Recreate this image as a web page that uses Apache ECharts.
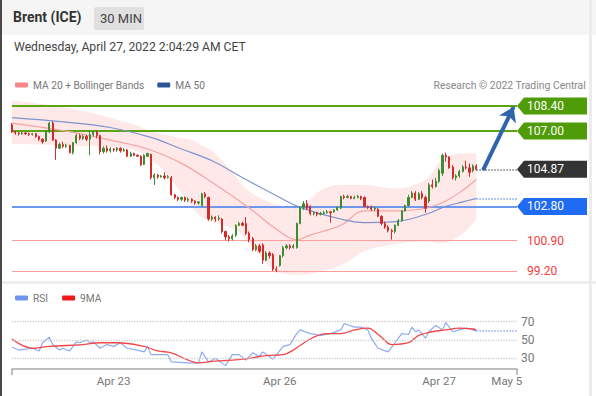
<!DOCTYPE html>
<html><head><meta charset="utf-8">
<script src="https://cdn.jsdelivr.net/npm/echarts@6/dist/echarts.min.js"></script>
<style>html,body{margin:0;padding:0;background:#fff;overflow:hidden}#c{width:596px;height:396px}</style>
</head><body><div id="c"></div>
<script>
// ---- DATA ----
// candles: [open, close, low, high], one per 30-min bar
const candles = [
[107.35,106.95,106.90,107.45],[106.95,106.90,106.80,107.00],[106.90,106.85,106.75,106.95],[106.85,106.90,106.80,106.95],
[106.90,106.85,106.78,106.95],[106.85,106.82,106.72,106.92],[106.82,106.85,106.75,106.90],[106.85,106.70,106.62,106.90],
[106.70,106.55,106.45,106.75],[106.55,106.40,106.30,106.60],[106.45,107.00,106.40,107.05],[106.95,107.45,106.90,107.50],
[107.45,106.50,106.45,107.55],[106.50,106.05,105.40,106.55],[106.05,106.25,106.00,106.35],[106.25,106.15,106.05,106.40],
[106.15,106.20,106.05,106.30],[106.20,105.80,105.75,106.25],[105.80,106.35,105.70,106.40],[106.35,106.75,106.30,106.85],
[106.75,106.60,106.50,106.85],[106.60,106.70,106.50,106.80],[106.70,106.55,106.45,106.80],[106.55,106.80,105.65,107.05],
[106.80,106.95,106.70,107.05],[106.95,106.75,106.60,107.05],[106.75,105.85,105.70,106.80],[105.85,106.05,105.75,106.15],
[106.05,105.90,105.80,106.20],[105.90,106.00,105.80,106.10],[106.00,105.95,105.85,106.05],[105.95,106.05,105.85,106.10],
[106.05,105.90,105.80,106.10],[105.90,105.95,105.85,106.05],[105.95,105.60,105.55,106.00],[105.60,105.75,105.55,105.85],
[105.75,105.65,105.60,105.80],[105.65,105.60,105.55,105.70],[105.60,105.12,105.05,105.65],[105.15,105.65,105.10,105.70],
[105.60,105.75,105.55,105.80],[105.70,104.40,104.30,105.75],[104.40,104.55,104.00,104.65],[104.55,104.45,104.35,104.60],
[104.45,104.50,104.40,104.55],[104.50,104.40,104.30,104.70],[104.40,104.45,104.35,104.55],[104.40,103.45,103.40,104.50],
[103.45,103.30,103.20,103.50],[103.30,103.20,103.10,103.35],[103.20,103.30,103.10,103.35],[103.30,103.15,103.05,103.35],
[103.15,103.20,103.05,103.30],[103.20,103.10,103.00,103.25],[103.10,103.00,102.90,103.15],[103.00,103.05,102.90,103.10],
[102.85,103.50,102.80,103.55],[103.50,103.35,103.25,103.60],[103.30,102.10,102.00,103.35],[102.10,102.20,102.00,102.30],
[102.20,102.10,101.95,102.25],[102.10,102.15,102.00,102.30],[102.10,101.40,101.30,102.15],[101.40,101.10,100.90,101.45],
[101.10,101.00,100.85,101.20],[101.00,101.15,100.90,101.25],[101.20,101.75,101.10,101.80],[101.75,101.85,101.70,101.95],
[101.85,101.75,101.70,101.95],[101.85,101.30,101.20,102.20],[101.30,100.95,100.80,101.40],[101.00,100.40,100.30,101.10],
[100.40,100.60,100.30,100.70],[100.60,100.30,100.20,100.70],[100.65,99.80,99.60,100.75],[99.80,100.20,99.75,100.30],
[100.20,100.05,99.90,100.30],[100.10,99.30,99.20,100.20],[99.30,99.25,99.13,99.45],[99.50,100.05,99.45,100.10],
[100.05,100.50,99.95,100.60],[100.50,100.60,100.40,100.70],[100.60,100.50,100.40,100.70],[100.50,100.60,100.45,100.70],
[100.50,101.85,100.45,101.90],[101.85,102.75,101.80,102.80],[102.75,102.95,102.60,103.10],[102.95,102.70,102.60,103.15],
[102.80,102.40,102.30,102.85],[102.40,102.45,102.30,102.50],[102.45,102.35,102.25,102.50],[102.35,102.40,102.30,102.50],
[102.40,102.45,102.35,102.55],[102.45,102.50,102.40,102.60],[102.50,102.45,101.90,102.55],[102.50,102.60,102.45,102.65],
[102.60,102.75,102.55,102.80],[102.70,103.35,102.65,103.40],[103.35,103.30,103.20,103.45],[103.30,103.35,103.25,103.45],
[103.35,103.25,103.20,103.40],[103.25,103.30,103.20,103.40],[103.30,103.35,103.25,103.45],[103.35,103.25,103.15,103.40],
[103.30,102.80,102.75,103.35],[102.80,102.75,102.65,102.85],[102.75,102.65,102.55,102.85],[102.65,102.70,102.55,102.80],
[102.65,102.25,102.20,102.70],[102.25,101.85,101.75,102.30],[101.85,101.65,101.55,101.95],[101.65,101.45,101.35,101.75],
[101.45,101.40,100.95,101.55],[101.40,101.75,101.30,101.80],[101.75,102.00,101.70,102.10],[102.00,102.55,101.95,102.60],
[102.55,102.85,102.50,102.90],[102.85,103.30,102.80,103.45],[103.30,103.55,103.25,103.65],[103.55,103.20,103.10,103.65],
[103.20,103.50,103.15,103.60],[103.50,103.30,103.20,103.65],[103.30,102.70,102.45,103.40],[103.10,104.00,103.00,104.10],
[104.00,103.90,103.80,104.30],[103.90,104.20,103.85,104.40],[104.20,104.80,104.10,104.90],[104.65,105.65,104.50,105.75],
[105.65,105.55,105.30,105.80],[105.55,104.95,104.90,105.60],[105.00,104.40,104.30,105.10],[104.40,104.50,104.25,104.60],
[104.50,104.75,104.40,104.85],[104.75,105.00,104.70,105.10],[105.00,104.95,104.85,105.35],[104.95,104.70,104.45,105.20],
[104.80,105.05,104.70,105.15],[105.05,104.87,104.80,105.15]
];
const barCount = 150; // axis slots incl. empty future slots
const categories = Array.from({length: barCount}, (_, i) => 'b' + i);
const tickLabels = {30: 'Apr 23', 79: 'Apr 26', 126: 'Apr 27', 146: 'May 5'};

// indicator readings as [barIndex, value]
const ma20 = [[0,107.45],[16,107.0],[29,106.5],[40,106.0],[50,105.2],[59,104.15],[69,102.85],[79,101.4],[84,100.95],[88,101.2],[97,101.75],[104,102.55],[113,102.55],[122,102.7],[128,103.1],[133,103.7],[137,104.3]];
const ma50 = [[0,107.75],[16,107.5],[29,107.2],[41,106.65],[50,106.0],[59,105.35],[69,104.3],[79,103.3],[85,102.75],[97,102.1],[104,101.9],[113,101.95],[122,102.35],[128,102.8],[133,103.05],[137,103.25]];
const bandIdx = [0,16,29,36,41,44,50,53,56,59,66,69,73,79,85,88,92,98,104,113,122,127,133,137];
const bbUpper = [108.7,108.3,107.75,107.35,107.0,106.85,106.6,106.5,106.2,105.9,104.5,103.8,103.3,102.85,102.75,103.2,103.8,104.0,104.0,103.8,104.3,105.4,105.75,105.75];
const bbLower = [106.3,106.2,106.1,105.95,105.4,104.95,103.55,102.8,102.2,101.95,101.5,101.0,100.1,99.1,99.0,99.05,99.2,99.6,100.3,100.7,100.85,100.75,101.3,102.1];
const rsi = [[0,42],[2,39],[6,41],[8,38],[9,47],[11,53],[12,45],[14,39],[15,41],[17,38],[19,48],[20,47],[22,50],[23,47],[24,48],[26,41],[28,45],[30,43],[32,47],[34,41],[37,39],[39,37],[40,43],[41,34],[46,34],[47,26],[52,25],[55,25],[56,37],[58,26],[60,30],[63,22],[65,34],[67,34],[69,28],[71,36],[73,32],[74,37],[77,29],[80,43],[82,45],[84,57],[85,61],[88,57],[91,55],[94,57],[97,61],[98,68],[101,64],[103,64],[105,61],[106,52],[108,41],[111,37],[113,47],[115,57],[117,56],[118,64],[119,59],[120,61],[122,52],[123,59],[125,66],[127,61],[128,69],[130,59],[132,61],[134,63],[136,61],[137,60]];
const rsiMA = [[0,51],[6,41],[11,43],[21,45],[26,47],[31,47],[39,43],[43,38],[47,36],[52,28],[55,25],[60,27],[65,28],[70,30],[75,33],[80,34],[83,39],[85,44],[89,53],[93,57],[97,57],[101,61],[105,63],[106,62],[109,53],[112,45],[117,47],[120,55],[124,59],[128,61],[132,63],[136,62],[137,61]];
const lastPrice = 104.87;
const targets = {r2: 108.40, r1: 107.00, pivot: 102.80, s1: 100.90, s2: 99.20};
const rsiLevels = [70, 50, 30];

// ---- CHART ----
const FONT = 'Roboto, "Liberation Sans", sans-serif';
const chart = echarts.init(document.getElementById('c'), null, {renderer: 'svg'});
const lastIdx = candles.length - 1;
const endCat = categories[barCount - 1];
const boxPath = 'path://M0,8.5L7,0L70,0L70,17L7,17Z';
const boxPoint = (val, color) => ({
  name: val.toFixed(2), coord: [endCat, val], symbol: boxPath, symbolSize: [70, 17], symbolOffset: [35, 0],
  itemStyle: {color: color},
  label: {show: true, position: 'insideLeft', distance: 10, formatter: p => p.name, color: '#fff', fontSize: 12, fontFamily: FONT}
});

const option = {
  animation: false,
  textStyle: {fontFamily: FONT},
  grid: [
    {left: 12, right: 79, top: 95, height: 190},
    {left: 12, right: 79, top: 300, height: 69}
  ],
  xAxis: [
    {type: 'category', data: categories, boundaryGap: false, gridIndex: 0, show: false},
    {type: 'category', data: categories, boundaryGap: false, gridIndex: 1,
     axisLine: {lineStyle: {color: '#a9a9a9', width: 1.5}},
     axisTick: {show: true, length: 6, interval: (i) => i === 0 || i === barCount - 1, lineStyle: {color: '#a9a9a9', width: 1.5}},
     axisLabel: {interval: (i) => tickLabels[i] !== undefined, formatter: (v, i) => tickLabels[i] || '', color: '#777', fontSize: 11.5, margin: 6, fontFamily: FONT},
     splitLine: {show: false}}
  ],
  yAxis: [
    {type: 'value', gridIndex: 0, min: 98.419, max: 109.013, show: false, splitLine: {show: false}},
    {type: 'value', gridIndex: 1, min: 18.3, max: 93.7, show: false, splitLine: {show: false}}
  ],
  legend: [
    {left: 15, top: 80, padding: 0, icon: 'roundRect', itemWidth: 13, itemHeight: 5, itemGap: 13, selectedMode: false,
     textStyle: {color: '#777', fontSize: 10.2, fontFamily: FONT},
     data: [{name: 'MA 20 + Bollinger Bands', itemStyle: {color: '#f78686'}}, {name: 'MA 50', itemStyle: {color: '#2c5597'}}]},
    {left: 15, top: 293, padding: 0, icon: 'roundRect', itemWidth: 13, itemHeight: 5, itemGap: 14, selectedMode: false,
     textStyle: {color: '#777', fontSize: 10.2, fontFamily: FONT},
     data: [{name: 'RSI', itemStyle: {color: '#6f93ee'}}, {name: '9MA', itemStyle: {color: '#f01818'}}]}
  ],
  graphic: [
    {type: 'rect', left: 0, top: 0, z: -10, shape: {width: 596, height: 35}, style: {fill: '#f5f5f5'}},
    {type: 'rect', left: 0, top: 281, z: -10, shape: {width: 596, height: 3}, style: {fill: '#eeeeee'}},
    {type: 'rect', left: 0, top: 0, z: 10, shape: {width: 2, height: 396}, style: {fill: '#4a4a4a'}},
    {type: 'rect', left: 589, top: 0, z: 10, shape: {width: 3, height: 396}, style: {fill: '#ececec'}},
    {type: 'text', left: 13, top: 10, style: {text: 'Brent (ICE)', fill: '#333', font: 'bold 14px ' + FONT}},
    {type: 'rect', left: 94, top: 7, shape: {width: 50, height: 23, r: 2}, style: {fill: '#e0e0e0'}},
    {type: 'text', left: 100, top: 12, style: {text: '30 MIN', fill: '#444', font: '13px ' + FONT}},
    {type: 'text', left: 14, top: 41, style: {text: 'Wednesday, April 27, 2022 2:04:29 AM CET', fill: '#444', font: '12.2px ' + FONT}},
    {type: 'text', right: 10, top: 80, style: {text: 'Research \u00a9 2022 Trading Central', fill: '#888', font: '10.4px ' + FONT}}
  ],
  series: [
    {name: 'bbLow', type: 'line', xAxisIndex: 0, yAxisIndex: 0, stack: 'bb', smooth: 0.4, symbol: 'none', silent: true,
     lineStyle: {opacity: 0}, data: bandIdx.map((k, i) => [k, bbLower[i]]), z: 1},
    {name: 'bbFill', type: 'line', xAxisIndex: 0, yAxisIndex: 0, stack: 'bb', smooth: 0.4, symbol: 'none', silent: true,
     lineStyle: {opacity: 0}, areaStyle: {color: 'rgba(250,170,170,0.38)'},
     data: bandIdx.map((k, i) => [k, +(bbUpper[i] - bbLower[i]).toFixed(3)]), z: 1},
    {name: 'MA 20 + Bollinger Bands', type: 'line', xAxisIndex: 0, yAxisIndex: 0, smooth: 0.4, symbol: 'none',
     lineStyle: {color: '#f7a3a3', width: 1.2}, itemStyle: {color: '#f7a3a3'}, data: ma20, z: 2},
    {name: 'MA 50', type: 'line', xAxisIndex: 0, yAxisIndex: 0, smooth: 0.4, symbol: 'none',
     lineStyle: {color: '#7d95cd', width: 1.2}, itemStyle: {color: '#7d95cd'}, data: ma50, z: 2,
     markLine: {silent: true, symbol: 'none', animation: false,
       data: [
         [{coord: [categories[lastIdx], ma50[ma50.length - 1][1]], lineStyle: {color: '#7d9be0', type: 'dotted', width: 1.5}},
          {coord: [endCat, ma50[ma50.length - 1][1]]}],
         [{coord: [categories[lastIdx], lastPrice], lineStyle: {color: '#777', type: 'dotted', width: 1.5}},
          {coord: [endCat, lastPrice]}],
         [{coord: [categories[lastIdx + 2], lastPrice - 0.05], symbol: 'none', lineStyle: {color: '#2f64ad', width: 4, type: 'solid'}},
          {coord: [categories[barCount - 2], targets.r2 - 0.05], symbol: 'arrow', symbolSize: 14}]
       ], label: {show: false}}},
    {name: 'Brent', type: 'candlestick', xAxisIndex: 0, yAxisIndex: 0, data: candles, barMaxWidth: 3, z: 3,
     itemStyle: {color: '#3d8c33', color0: '#d42a2a', borderColor: '#3d8c33', borderColor0: '#d42a2a', borderWidth: 1},
     markLine: {silent: true, symbol: 'none', animation: false, z: 2,
       data: [
         {yAxis: targets.r2, lineStyle: {color: '#5aa512', width: 2, type: 'solid'}, label: {show: false}},
         {yAxis: targets.r1, lineStyle: {color: '#5aa512', width: 2, type: 'solid'}, label: {show: false}},
         {yAxis: targets.pivot, lineStyle: {color: '#6d98ee', width: 2, type: 'solid'}, label: {show: false}},
         {yAxis: targets.s1, lineStyle: {color: '#ff9d9d', width: 1, type: 'solid'},
          label: {show: true, position: 'end', distance: 10, formatter: () => targets.s1.toFixed(2), color: '#f43a3a', fontSize: 12, fontFamily: FONT}},
         {yAxis: targets.s2, lineStyle: {color: '#ff9d9d', width: 1, type: 'solid'},
          label: {show: true, position: 'end', distance: 10, formatter: () => targets.s2.toFixed(2), color: '#f43a3a', fontSize: 12, fontFamily: FONT}}
       ]},
     markPoint: {silent: true, animation: false,
       data: [boxPoint(targets.r2, '#4f9c08'), boxPoint(targets.r1, '#4f9c08'), boxPoint(lastPrice, '#333333'), boxPoint(targets.pivot, '#1f6bf2')]}},
    {name: 'RSI', type: 'line', xAxisIndex: 1, yAxisIndex: 1, symbol: 'none', data: rsi,
     lineStyle: {color: '#8eaaf2', width: 1.2}, itemStyle: {color: '#8eaaf2'}, z: 3,
     markLine: {silent: true, symbol: 'none', animation: false,
       lineStyle: {color: '#cfcfcf', type: 'dotted', width: 1.3},
       label: {show: true, position: 'end', distance: 4, color: '#777', fontSize: 12, fontFamily: FONT, formatter: p => p.value},
       data: rsiLevels.map(v => ({yAxis: v}))}},
    {name: '9MA', type: 'line', xAxisIndex: 1, yAxisIndex: 1, symbol: 'none', smooth: 0.4, data: rsiMA,
     lineStyle: {color: '#f24545', width: 1.3}, itemStyle: {color: '#f24545'}, z: 4,
     markLine: {silent: true, symbol: 'none', animation: false, label: {show: false},
       data: [[{coord: [categories[lastIdx], rsi[rsi.length - 1][1]], lineStyle: {color: '#8eaaf2', type: 'dotted', width: 1.5}},
               {coord: [endCat, rsi[rsi.length - 1][1]]}]]}}
  ]
};
chart.setOption(option);
</script></body></html>
